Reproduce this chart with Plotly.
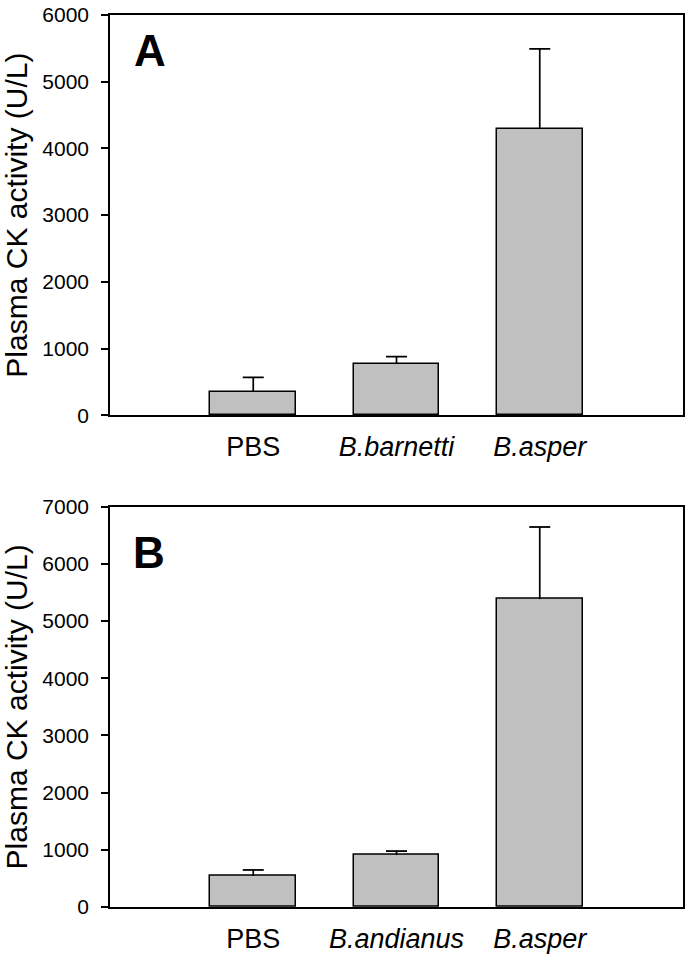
import plotly.graph_objects as go

# ---- data ----
cats_a = ["PBS", "<i>B.barnetti</i>", "<i>B.asper</i>"]
vals_a = [353, 771, 4291]
errs_a = [214, 109, 1202]

cats_b = ["PBS", "<i>B.andianus</i>", "<i>B.asper</i>"]
vals_b = [544, 908, 5385]
errs_b = [104, 70, 1261]

pos = [0, 1, 2]
y_title = "Plasma CK activity (U/L)"
FONT = "Liberation Sans, Arial, sans-serif"

fig = go.Figure()

def add_bars(vals, errs, xa, ya):
    fig.add_trace(go.Bar(
        x=pos, y=vals, width=0.6,
        marker=dict(color="#C0C0C0", line=dict(color="black", width=1.5)),
        error_y=dict(type="data", array=errs, symmetric=False,
                     arrayminus=[0] * len(errs),
                     color="black", thickness=1.7, width=0),
        xaxis=xa, yaxis=ya, showlegend=False, hoverinfo="skip",
    ))
    # caps at the top of the (upward only) error bars
    fig.add_trace(go.Scatter(
        x=pos, y=[v + e for v, e in zip(vals, errs)], mode="markers",
        marker=dict(symbol="line-ew", size=15, color="black",
                    line=dict(color="black", width=1.8)),
        xaxis=xa, yaxis=ya, showlegend=False, hoverinfo="skip",
    ))

add_bars(vals_a, errs_a, "x", "y")
add_bars(vals_b, errs_b, "x2", "y2")

axis_common = dict(showline=True, linecolor="black", linewidth=1.5, mirror=True,
                   showgrid=False, zeroline=False)

xcommon = dict(axis_common, range=[-1, 3], tickmode="array", tickvals=pos,
               ticks="", tickfont=dict(family=FONT, size=27, color="black"),
               ticklabelstandoff=7)
ycommon = dict(axis_common, ticks="outside", ticklen=7, tickwidth=1.5,
               tickcolor="black", tickfont=dict(family=FONT, size=21, color="black"),
               ticklabelstandoff=8,
               title=dict(text=y_title, font=dict(family=FONT, size=30, color="black"),
                          standoff=15))

fig.update_layout(
    width=688, height=960,
    margin=dict(l=110, r=3, t=11, b=53),
    paper_bgcolor="white", plot_bgcolor="white",
    bargap=0,
    xaxis=dict(xcommon, ticktext=cats_a, domain=[0, 1], anchor="y"),
    yaxis=dict(ycommon, range=[0, 6000], tickvals=list(range(0, 6001, 1000)),
               domain=[0.5513, 1], anchor="x"),
    xaxis2=dict(xcommon, ticktext=cats_b, domain=[0, 1], anchor="y2"),
    yaxis2=dict(ycommon, range=[0, 7000], tickvals=list(range(0, 7001, 1000)),
                domain=[0, 0.4487], anchor="x2"),
    annotations=[
        dict(text="<b>A</b>", xref="x domain", yref="y domain", x=0.0696, y=0.912,
             xanchor="center", yanchor="middle", showarrow=False,
             font=dict(family=FONT, size=44, color="black")),
        dict(text="<b>B</b>", xref="x2 domain", yref="y2 domain", x=0.0678, y=0.885,
             xanchor="center", yanchor="middle", showarrow=False,
             font=dict(family=FONT, size=44, color="black")),
    ],
)

fig.write_html("out.html", config={"displayModeBar": False},
               post_script="document.body.style.margin='0';document.body.style.overflow='hidden';")
